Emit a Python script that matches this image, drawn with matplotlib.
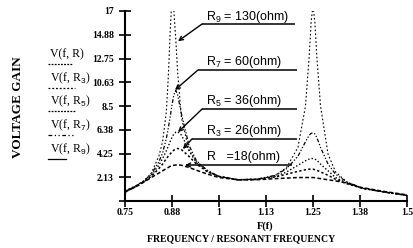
import matplotlib
matplotlib.use("Agg")
import matplotlib.pyplot as plt
import numpy as np

plt.rcParams['mathtext.fontset'] = 'custom'
plt.rcParams['mathtext.rm'] = 'Liberation Sans'
plt.rcParams['mathtext.it'] = 'Liberation Sans:italic'

# frequency grid (f / f0)
freq = [0.75, 0.78, 0.80, 0.82, 0.84, 0.85, 0.86, 0.865, 0.87, 0.875, 0.88, 0.885,
        0.89, 0.90, 0.92, 0.94, 0.97, 1.00, 1.05, 1.10, 1.15, 1.18, 1.21, 1.23,
        1.24, 1.245, 1.25, 1.255, 1.26, 1.27, 1.29, 1.31, 1.34, 1.38, 1.44, 1.50]

v_r1 = [0.8, 1.3, 1.7, 2.1, 2.5, 2.7, 2.9, 3.0, 3.1, 3.15, 3.2, 3.22,
        3.25, 3.2, 3.0, 2.75, 2.4, 2.1, 1.9, 1.9, 2.0, 2.05, 2.1, 2.1,
        2.1, 2.1, 2.1, 2.08, 2.05, 2.0, 1.9, 1.8, 1.6, 1.2, 0.85, 0.55]
v_r3 = [0.8, 1.3, 1.7, 2.2, 2.9, 3.3, 3.8, 4.0, 4.2, 4.4, 4.55, 4.65,
        4.7, 4.6, 4.0, 3.3, 2.6, 2.2, 1.9, 1.95, 2.15, 2.4, 2.65, 2.8,
        2.85, 2.85, 2.85, 2.8, 2.75, 2.6, 2.3, 1.95, 1.55, 1.15, 0.8, 0.5]
v_r5 = [0.85, 1.35, 1.75, 2.3, 3.2, 3.8, 4.5, 4.9, 5.3, 5.7, 6.0, 6.15,
        6.2, 5.9, 4.6, 3.5, 2.7, 2.2, 1.9, 1.95, 2.2, 2.6, 3.2, 3.6,
        3.75, 3.8, 3.8, 3.75, 3.65, 3.3, 2.7, 2.1, 1.6, 1.15, 0.8, 0.5]
v_r7 = [0.85, 1.35, 1.8, 2.4, 3.5, 4.3, 5.6, 6.5, 7.5, 8.6, 9.5, 9.9,
        9.5, 7.8, 5.0, 3.6, 2.7, 2.2, 1.9, 1.95, 2.3, 2.9, 4.0, 5.3,
        5.9, 6.05, 6.1, 6.0, 5.7, 4.8, 3.3, 2.4, 1.7, 1.15, 0.8, 0.5]
v_r9 = [0.9, 1.4, 1.8, 2.5, 4.0, 5.3, 8.0, 11.0, 15.0, 18.5, 17.0, 14.5,
        11.5, 7.5, 4.5, 3.4, 2.6, 2.2, 1.9, 1.9, 2.3, 3.0, 4.8, 8.5,
        13.0, 16.0, 17.5, 16.0, 13.0, 8.5, 4.2, 2.6, 1.7, 1.15, 0.8, 0.5]

y_ticks = [0, 2.125, 4.25, 6.375, 8.5, 10.625, 12.75, 14.875, 17]
y_labels = ['', '2.13', '4.25', '6.38', '8.5', '10.63', '12.75', '14.88', '17']
x_ticks = [0.75, 0.875, 1.0, 1.125, 1.25, 1.375, 1.5]
x_labels = ['0.75', '0.88', '1', '1.13', '1.25', '1.38', '1.5']

W, H = 413, 248
fig = plt.figure(figsize=(W / 100, H / 100), dpi=100)
ax = fig.add_axes([125 / W, 1 - 201 / H, 282 / W, 190 / H])

ax.plot(freq, v_r1, color='black', lw=1.1, ls=(0, (2.5, 1.5)))
ax.plot(freq, v_r3, color='black', lw=1.1, ls=(0, (1.5, 1.5)))
ax.plot(freq, v_r5, color='black', lw=1.0, ls=(0, (1, 1.5)))
ax.plot(freq, v_r7, color='black', lw=0.9, ls=(0, (3, 1.5, 1, 1.5, 1, 1.5)))
ax.plot(freq, v_r9, color='black', lw=0.8, ls=(0, (1.5, 2)))

ax.set_xlim(0.75, 1.5)
ax.set_ylim(0, 17)
for s in ['top', 'right']:
    ax.spines[s].set_visible(False)
for s in ['left', 'bottom']:
    ax.spines[s].set_linewidth(1.5)

tfont = dict(family='Liberation Serif', weight='bold', size=7)
ax.set_yticks(y_ticks)
ax.set_yticklabels(y_labels, **tfont)
ax.set_xticks(x_ticks)
ax.set_xticklabels(x_labels, **tfont)
ax.tick_params(direction='inout', length=8, width=1.2, pad=1)
ax.tick_params(axis='y', pad=4)

# annotations
afont = dict(family='Liberation Sans', size=9)
annos = [
    ("R$_9$ = 130(ohm)", 0.965, 16.5, 0.955, 1.202, 15.84, 0.891, 14.3),
    ("R$_7$ = 60(ohm)", 0.965, 12.4, 0.944, 1.207, 11.72, 0.883, 9.93),
    ("R$_5$ = 36(ohm)", 0.965, 8.95, 0.955, 1.207, 8.23, 0.891, 6.17),
    ("R$_3$ = 26(ohm)", 0.965, 6.3, 0.928, 1.207, 5.55, 0.904, 4.65),
    ("R   =18(ohm)", 0.968, 3.95, 0.918, 1.194, 3.22, 0.91, 3.22),
]
for txt, tx, ty, x0, x1, yl, px, py in annos:
    ax.text(tx, ty, txt, va='center', ha='left', **afont)
    ax.plot([x0, x1], [yl, yl], color='black', lw=1.1, solid_capstyle='butt')
    ax.annotate('', xy=(px, py), xytext=(x0, yl),
                arrowprops=dict(arrowstyle='->', lw=1.0, color='black',
                                mutation_scale=7, shrinkA=0, shrinkB=0))

# left labels
lfont = dict(family='Liberation Serif', size=8.5)
lab = ["V(f, R)", "V(f, R$_3$)", "V(f, R$_5$)", "V(f, R$_7$)", "V(f, R$_9$)"]
ys = [54, 78, 101, 125, 149]
lstyles = [(0, (1.5, 1)), (0, (1.5, 1.5)), (0, (1.5, 1)), (0, (3, 2, 1, 2, 1, 2)), '-']
lx1 = [72, 75, 75, 75, 66]
for t, yy, ls, xe in zip(lab, ys, lstyles, lx1):
    fig.text(50 / W, 1 - yy / H, t, ha='left', va='center', **lfont)
    fig.add_artist(plt.Line2D([48 / W, xe / W], [1 - (yy + 10) / H] * 2,
                              color='black', lw=0.9, ls=ls))

fig.text(18 / W, 1 - 107 / H, "VOLTAGE GAIN", rotation=90, ha='center', va='center',
         family='Liberation Serif', weight='bold', size=9.5)
fig.text(265 / W, 1 - 226 / H, "F(f)", ha='center', va='center',
         family='Liberation Serif', weight='bold', size=7.5)
fig.text(241 / W, 1 - 239 / H, "FREQUENCY / RESONANT FREQUENCY", ha='center', va='center',
         family='Liberation Serif', weight='bold', size=7)

fig.savefig("out.png", dpi=100)
